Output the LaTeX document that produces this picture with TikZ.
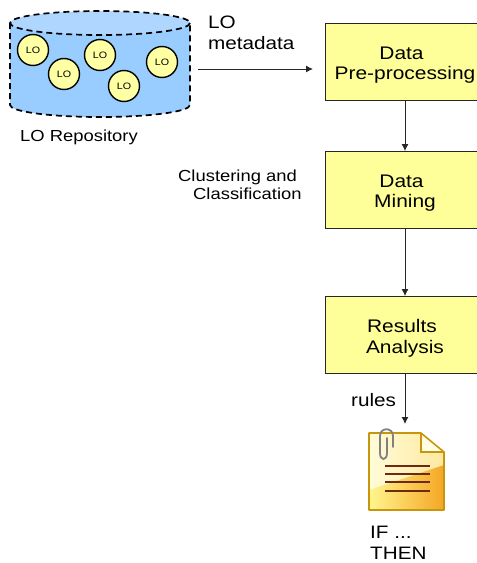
\documentclass[tikz,border=0pt]{standalone}
\usepackage{fontspec}
\setmainfont[FakeStretch=1.15]{Liberation Sans}
\definecolor{boxyellow}{HTML}{FFFF99}
\definecolor{lobody}{HTML}{99CCFF}
\definecolor{lotop}{HTML}{AED6FF}
\definecolor{docedge}{HTML}{C8960C}
\definecolor{docline}{HTML}{6E2A10}
\definecolor{doclight}{HTML}{FFFCD8}
\definecolor{docpale}{HTML}{FFE8A0}
\definecolor{docyellow}{HTML}{FFF68F}
\definecolor{docorange}{HTML}{F5A623}
\tikzset{
  stagebox/.style={draw=black!85,line width=0.9pt,fill=boxyellow,minimum width=160,minimum height=77,align=center,font=\fontsize{18.2}{20.3}\selectfont},
  lobject/.style={circle,draw=black,line width=1.4pt,fill=boxyellow!90!white,minimum size=31,inner sep=0pt,font=\fontsize{9.3}{11}\selectfont},
  caption/.style={inner sep=0pt,anchor=west,font=\fontsize{16}{18}\selectfont},
  bigcaption/.style={inner sep=0pt,anchor=west,align=left,font=\fontsize{18}{20.5}\selectfont},
  flow/.style={-{Latex[length=7pt,width=7pt]},line width=1pt,black!85},
  repoline/.style={black,line width=1.7pt,dash pattern=on 6pt off 4pt},
}
\usetikzlibrary{arrows.meta}
\begin{document}
\begin{tikzpicture}[x=1pt,y=-1pt]
\clip (0,0) rectangle (477,563);
% repository
\fill[lobody] (10,23) -- (10,105) arc[start angle=180,end angle=0,x radius=90,y radius=12] -- (190,23) -- cycle;
\fill[lotop] (100,23) ellipse[x radius=90,y radius=12];
\draw[repoline] (100,23) ellipse[x radius=90,y radius=12];
\draw[repoline] (10,23) -- (10,105) arc[start angle=180,end angle=0,x radius=90,y radius=12] -- (190,23);
\node[lobject] (LO1) at (33,50) {LO};
\node[lobject] (LO2) at ([shift={+(31,24)}]LO1) {LO};
\node[lobject] (LO3) at ([shift={+(36,-19)}]LO2) {LO};
\node[lobject] (LO4) at ([shift={+(24,31)}]LO3) {LO};
\node[lobject] (LO5) at ([shift={+(38,-24)}]LO4) {LO};
\node[caption] (repo) at (20,137) {LO Repository};

% stages
\node[stagebox] (prep) at (405,62) {\rule{0pt}{19pt}Data\kern7pt\\Pre-processing};
\node[stagebox] (mining) at ([shift={+(0,128)}]prep) {\rule{0pt}{19pt}Data\kern7pt\\Mining};
\node[stagebox] (results) at ([shift={+(0,145)}]mining) {\rule{0pt}{20pt}Results\kern6pt\\Analysis};
\draw[flow] (prep.south) -- (mining.north);
\draw[flow] (mining.south) -- (results.north);

% labels
\coordinate (meta_start) at (198,69);
\coordinate (meta_end) at (313,69);
\draw[flow] (meta_start) -- (meta_end);
\node[bigcaption] (meta) at (208,33) {LO\\metadata};
\node[caption] (clust) at (178,177) {Clustering and};
\node[caption] (classif) at ([shift={+(15,17)}]clust.west) {Classification};

% rules document
\coordinate (doc_top) at (405,424);
\draw[flow] (results.south) -- (doc_top);
\node[bigcaption] (rules) at (351,400) {rules};
\shade[left color=doclight,right color=docpale] (369,433) -- (421,433) -- (444,452) -- (444,510) -- (369,510) -- cycle;
\shade[left color=docyellow,right color=docorange] (369,490) -- (444,465) -- (444,510) -- (369,510) -- cycle;
\fill[doclight!70!white] (421,433) -- (444,452) -- (421,452) -- cycle;
\draw[docedge,line width=1.6pt,line join=round] (369,433) -- (421,433) -- (444,452) -- (444,510) -- (369,510) -- cycle;
\draw[docedge,line width=1.2pt] (421,433) -- (421,452) -- (444,452);
\draw[docline,line width=1.5pt] (385,466) -- (430,466);
\draw[docline,line width=1.5pt] (385,474) -- (430,474);
\draw[docline,line width=1.5pt] (385,482) -- (430,482);
\draw[docline,line width=1.5pt] (385,491) -- (430,491);
\draw[gray,line width=1.8pt,line cap=round] (393,447) -- (393,436) .. controls (393,427) and (380,427) .. (380,436) -- (380,453) .. controls (380,461) and (387,461) .. (387,453) -- (387,438);
\node[bigcaption] (ifthen) at (370,543) {IF ...\\THEN};
\end{tikzpicture}
\end{document}
